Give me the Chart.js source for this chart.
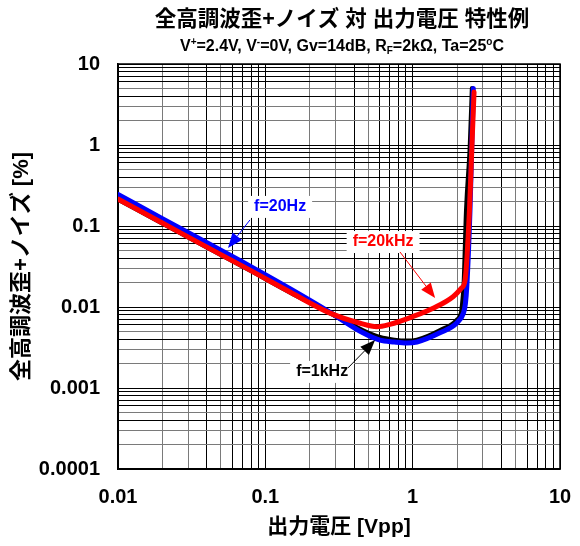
<!DOCTYPE html>
<html>
<head>
<meta charset="utf-8">
<script src="https://cdn.jsdelivr.net/npm/chart.js@4.4.0/dist/chart.umd.min.js"></script>
<style>
  html, body { margin: 0; padding: 0; background: #fff; }
  #wrap { width: 580px; height: 546px; }
</style>
</head>
<body>
<div id="wrap"><canvas id="thd-chart"></canvas></div>
<script>
// tick labels (decades only)
const xTickLabels = ['0.01', '0.1', '1', '10'];
const yTickLabels = ['0.0001', '0.001', '0.01', '0.1', '1', '10'];

// f=20Hz (blue)
const f20Hz_x = [0.01, 0.02, 0.036, 0.0787, 0.15, 0.275, 0.46, 0.6, 0.75, 0.91, 1.07, 1.53, 2.0, 2.21, 2.28, 2.33, 2.45, 2.52, 2.58];
const f20Hz_y = [0.245, 0.123, 0.069, 0.032, 0.0165, 0.0086, 0.0048, 0.0039, 0.0037, 0.0036, 0.0037, 0.0048, 0.0064, 0.0084, 0.011, 0.0178, 0.158, 1.0, 5.0];

// f=1kHz (black)
const f1kHz_x = [0.01, 0.02, 0.036, 0.0787, 0.15, 0.275, 0.46, 0.6, 0.75, 0.91, 1.07, 1.53, 2.0, 2.15, 2.2, 2.23, 2.32, 2.46, 2.54];
const f1kHz_y = [0.215, 0.109, 0.061, 0.0285, 0.0150, 0.0085, 0.0051, 0.0042, 0.0039, 0.0038, 0.0039, 0.0051, 0.0069, 0.0088, 0.013, 0.0178, 0.158, 1.0, 5.0];

// f=20kHz (red)
const f20kHz_x = [0.01, 0.02, 0.036, 0.0787, 0.15, 0.275, 0.44, 0.57, 0.7, 1.0, 1.4, 1.88, 2.15, 2.27, 2.43, 2.52, 2.61];
const f20kHz_y = [0.215, 0.109, 0.061, 0.0285, 0.0150, 0.0084, 0.0063, 0.0057, 0.0061, 0.0076, 0.0098, 0.0134, 0.0172, 0.0216, 0.158, 0.9, 4.5];

const FONT = '"Liberation Sans", "Noto Sans CJK JP", Arial, sans-serif';

function toPoints(xs, ys) {
  return xs.map((x, i) => ({x: x, y: ys[i]}));
}

function logTicks(lo, hi) {
  const out = [];
  for (let e = lo; e < hi; e++) {
    for (let m = 1; m <= 9; m++) {
      out.push({value: m * Math.pow(10, e)});
    }
  }
  out.push({value: Math.pow(10, hi)});
  return out;
}

function mantissa(v) {
  const e = Math.floor(Math.log10(v) + 1e-9);
  return Math.round(v / Math.pow(10, e));
}

function gridColor(ctx) {
  if (!ctx.tick) return '#000';
  const m = mantissa(ctx.tick.value);
  return (m === 2 || m === 3 || m === 5) ? '#7a7a7a' : '#000';
}

function decadeLabel(labels, lowExp) {
  return function(value) {
    const lg = Math.log10(value);
    if (Math.abs(lg - Math.round(lg)) < 1e-6) {
      return labels[Math.round(lg) - lowExp];
    }
    return '';
  };
}

// annotation labels with arrows (data coords)
const notes = [
  {text: 'f=20Hz', color: '#0000ff', lx: 0.126, ly: 0.172, ax: 0.0787, ay: 0.119, tx: 0.0558, ty: 0.0535},
  {text: 'f=20kHz', color: '#ff0000', lx: 0.63, ly: 0.0634, ax: 0.82, ay: 0.0478, tx: 1.42, ty: 0.0129},
  {text: 'f=1kHz', color: '#000000', lx: 0.243, ly: 0.00158, ax: 0.364, ay: 0.00177, tx: 0.556, ty: 0.0039}
];

const framePlugin = {
  id: 'frame',
  beforeDatasetsDraw(chart) {
    const {ctx, chartArea: a} = chart;
    ctx.save();
    ctx.strokeStyle = '#000';
    ctx.lineWidth = 1.5;
    ctx.strokeRect(a.left, a.top, a.right - a.left, a.bottom - a.top);
    ctx.restore();
  }
};

const notesPlugin = {
  id: 'notes',
  afterDatasetsDraw(chart) {
    const ctx = chart.ctx;
    const xs = chart.scales.x, ys = chart.scales.y;
    ctx.save();
    ctx.font = 'bold 16px ' + FONT;
    ctx.textAlign = 'center';
    ctx.textBaseline = 'middle';
    notes.forEach(n => {
      const lx = xs.getPixelForValue(n.lx), ly = ys.getPixelForValue(n.ly);
      const w = ctx.measureText(n.text).width;
      ctx.fillStyle = '#fff';
      ctx.fillRect(lx - w / 2 - 6, ly - 11, w + 12, 22);
      ctx.fillStyle = n.color;
      ctx.fillText(n.text, lx, ly);
      // arrow
      const x0 = xs.getPixelForValue(n.ax), y0 = ys.getPixelForValue(n.ay);
      const x1 = xs.getPixelForValue(n.tx), y1 = ys.getPixelForValue(n.ty);
      const ang = Math.atan2(y1 - y0, x1 - x0);
      const hl = 15, hw = 6;
      const bx = x1 - hl * Math.cos(ang), by = y1 - hl * Math.sin(ang);
      ctx.strokeStyle = n.color;
      ctx.lineWidth = 1;
      ctx.beginPath();
      ctx.moveTo(x0, y0);
      ctx.lineTo(bx, by);
      ctx.stroke();
      ctx.beginPath();
      ctx.moveTo(x1, y1);
      ctx.lineTo(bx + hw * Math.sin(ang), by - hw * Math.cos(ang));
      ctx.lineTo(bx - hw * Math.sin(ang), by + hw * Math.cos(ang));
      ctx.closePath();
      ctx.fill();
    });
    ctx.restore();
  }
};

const titlePlugin = {
  id: 'titles',
  afterDraw(chart) {
    const ctx = chart.ctx;
    const a = chart.chartArea;
    const cx = (a.left + a.right) / 2 + 3;
    ctx.save();
    ctx.fillStyle = '#000';
    ctx.textBaseline = 'middle';
    ctx.textAlign = 'center';
    ctx.font = 'bold 21.5px ' + FONT;
    ctx.fillText('全高調波歪+ノイズ 対 出力電圧 特性例', cx, 20);

    // subtitle with super/subscripts
    const parts = [
      {t: 'V'}, {t: '+', s: -5}, {t: '=2.4V, V'}, {t: '-', s: -5},
      {t: '=0V, Gv=14dB, R'}, {t: 'F', s: 4}, {t: '=2kΩ, Ta=25'}, {t: 'o', s: -5}, {t: 'C'}
    ];
    const big = 'bold 16px ' + FONT, small = 'bold 10px ' + FONT;
    let total = 0;
    parts.forEach(p => { ctx.font = p.s ? small : big; p.w = ctx.measureText(p.t).width; total += p.w; });
    let x = cx - total / 2;
    ctx.textAlign = 'left';
    parts.forEach(p => {
      ctx.font = p.s ? small : big;
      ctx.fillText(p.t, x, 47 + (p.s || 0));
      x += p.w;
    });
    ctx.restore();
  }
};

new Chart(document.getElementById('thd-chart'), {
  type: 'line',
  data: {
    datasets: [
      {label: 'f=20kHz', data: toPoints(f20kHz_x, f20kHz_y), borderColor: '#ff0000'},
      {label: 'f=20Hz', data: toPoints(f20Hz_x, f20Hz_y), borderColor: '#0000ff'},
      {label: 'f=1kHz', data: toPoints(f1kHz_x, f1kHz_y), borderColor: '#000000'}
    ]
  },
  options: {
    responsive: true,
    maintainAspectRatio: false,
    animation: false,
    layout: {padding: {top: 64, right: 20, left: 0, bottom: 0}},
    elements: {
      point: {radius: 0},
      line: {borderWidth: 5, cubicInterpolationMode: 'monotone', borderJoinStyle: 'round', borderCapStyle: 'round', fill: false}
    },
    plugins: {
      legend: {display: false},
      tooltip: {enabled: false}
    },
    scales: {
      x: {
        type: 'logarithmic',
        min: 0.01,
        max: 10,
        afterBuildTicks: s => { s.ticks = logTicks(-2, 1); },
        afterFit: s => { s.height = 77; s.paddingLeft = 0; s.paddingRight = 0; },
        ticks: {
          callback: decadeLabel(xTickLabels, -2),
          autoSkip: false, maxRotation: 0, padding: 16,
          color: '#000', font: {family: FONT, size: 20, weight: 'bold'}
        },
        grid: {color: gridColor, lineWidth: 1, drawTicks: false},
        border: {display: true, color: '#000', width: 1.5},
        title: {
          display: true, text: '出力電圧 [Vpp]', color: '#000',
          font: {family: FONT, size: 21, weight: 'bold'},
          padding: {top: 0, bottom: 6}
        }
      },
      y: {
        type: 'logarithmic',
        min: 0.0001,
        max: 10,
        afterBuildTicks: s => { s.ticks = logTicks(-4, 1); },
        afterFit: s => { s.width = 118; s.paddingTop = 0; s.paddingBottom = 0; },
        ticks: {
          callback: decadeLabel(yTickLabels, -4),
          autoSkip: false, padding: 18,
          color: '#000', font: {family: FONT, size: 20, weight: 'bold'}
        },
        grid: {color: gridColor, lineWidth: 1, drawTicks: false},
        border: {display: true, color: '#000', width: 1.5},
        title: {
          display: true, text: '全高調波歪+ノイズ [%]', color: '#000',
          font: {family: FONT, size: 22, weight: 'bold'},
          padding: {top: 9, bottom: 0}
        }
      }
    }
  },
  plugins: [framePlugin, notesPlugin, titlePlugin]
});
</script>
</body>
</html>
